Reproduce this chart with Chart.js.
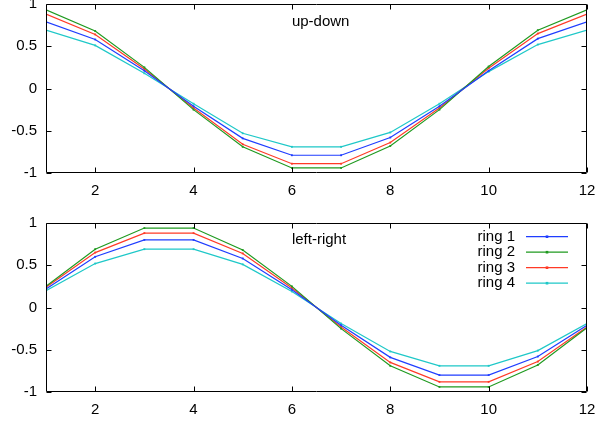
<!DOCTYPE html>
<html>
<head>
<meta charset="utf-8">
<script src="https://cdn.jsdelivr.net/npm/chart.js@4/dist/chart.umd.min.js"></script>
<style>
  html, body { margin: 0; padding: 0; background: #fff; }
  #wrap { position: relative; width: 595px; height: 423px; }
  canvas { position: absolute; left: 0; }
  #top { top: 0; }
  #bottom { top: 210px; }
</style>
</head>
<body>
<div id="wrap">
  <canvas id="top" width="595" height="210"></canvas>
  <canvas id="bottom" width="595" height="213"></canvas>
</div>
<script>
// Sample index along each ring
const positions = [1, 2, 3, 4, 5, 6, 7, 8, 9, 10, 11, 12];

// Series names and colours
const ringNames = ['ring 1', 'ring 2', 'ring 3', 'ring 4'];
const ringColors = ['#1f3dff', '#1f9a1f', '#ff3a26', '#1ec8c8'];

// Vertical (up-down) displacement per ring
const upDown1 = [0.79, 0.58, 0.21, -0.21, -0.59, -0.79, -0.79, -0.58, -0.21, 0.21, 0.59, 0.79];
const upDown2 = [0.93, 0.68, 0.25, -0.25, -0.69, -0.94, -0.94, -0.68, -0.25, 0.26, 0.69, 0.93];
const upDown3 = [0.88, 0.64, 0.23, -0.23, -0.66, -0.89, -0.89, -0.64, -0.23, 0.24, 0.65, 0.88];
const upDown4 = [0.69, 0.51, 0.18, -0.18, -0.53, -0.69, -0.69, -0.52, -0.18, 0.20, 0.52, 0.69];

// Horizontal (left-right) displacement per ring
const leftRight1 = [0.22, 0.60, 0.80, 0.80, 0.58, 0.21, -0.21, -0.59, -0.80, -0.80, -0.58, -0.21];
const leftRight2 = [0.25, 0.69, 0.94, 0.94, 0.68, 0.25, -0.25, -0.69, -0.94, -0.94, -0.68, -0.24];
const leftRight3 = [0.24, 0.65, 0.88, 0.88, 0.64, 0.23, -0.23, -0.65, -0.88, -0.88, -0.64, -0.23];
const leftRight4 = [0.20, 0.52, 0.69, 0.69, 0.51, 0.19, -0.19, -0.52, -0.69, -0.69, -0.51, -0.19];

// Tick values and labels
const xTicks = [2, 4, 6, 8, 10, 12];
const yTicks = [-1, -0.5, 0, 0.5, 1];
const yTickLabels = ['-1', '-0.5', '0', '0.5', '1'];

const FONT = '"Liberation Sans", Arial, Helvetica, sans-serif';
const FONT_SIZE = 15;

function makeDatasets(seriesList) {
  return seriesList.map((vals, i) => ({
    label: ringNames[i],
    data: positions.map((x, k) => ({ x: x, y: vals[k] })),
    borderColor: ringColors[i],
    backgroundColor: ringColors[i],
    pointBackgroundColor: ringColors[i],
    pointBorderColor: ringColors[i],
    borderWidth: 1.2,
    pointRadius: 1.3,
    pointBorderWidth: 0,
    pointStyle: 'rect',
    tension: 0,
    fill: false
  }));
}

// Frame, inward ticks, in-plot title and optional key
const framePlugin = {
  id: 'frame',
  afterDatasetsDraw(chart, args, opts) {
    const ctx = chart.ctx;
    const a = chart.chartArea;
    const xs = chart.scales.x, ys = chart.scales.y;
    ctx.save();
    ctx.strokeStyle = '#000';
    ctx.lineWidth = 1;
    const L = Math.round(a.left) + 0.5, R = Math.round(a.right) - 0.5;
    const T = Math.round(a.top) + 0.5, B = Math.round(a.bottom) - 0.5;
    ctx.beginPath();
    ctx.rect(L, T, R - L, B - T);
    const tl = 5;
    xTicks.forEach(v => {
      const px = Math.round(xs.getPixelForValue(v)) + 0.5;
      ctx.moveTo(px, B); ctx.lineTo(px, B - tl);
      ctx.moveTo(px, T); ctx.lineTo(px, T + tl);
    });
    yTicks.forEach(v => {
      const py = Math.round(ys.getPixelForValue(v)) + 0.5;
      ctx.moveTo(L, py); ctx.lineTo(L + tl, py);
      ctx.moveTo(R, py); ctx.lineTo(R - tl, py);
    });
    ctx.stroke();

    ctx.fillStyle = '#000';
    ctx.font = FONT_SIZE + 'px ' + FONT;
    ctx.textBaseline = 'middle';
    ctx.textAlign = 'left';
    ctx.fillText(opts.title, xs.getPixelForValue(opts.titleAt[0]), ys.getPixelForValue(opts.titleAt[1]));

    if (opts.key) {
      const k = opts.key;
      chart.data.datasets.forEach((ds, i) => {
        const y = k.top + i * k.step;
        ctx.fillStyle = '#000';
        ctx.textAlign = 'right';
        ctx.fillText(ds.label, k.textRight, y);
        ctx.strokeStyle = ds.borderColor;
        ctx.lineWidth = 1.2;
        ctx.beginPath();
        ctx.moveTo(k.lineFrom, y);
        ctx.lineTo(k.lineTo, y);
        ctx.stroke();
        ctx.fillStyle = ds.borderColor;
        const mx = (k.lineFrom + k.lineTo) / 2;
        ctx.fillRect(mx - 1.3, y - 1.3, 2.6, 2.6);
      });
    }
    ctx.restore();
  }
};

function makeChart(id, seriesList, padTop, xHeight, frameOpts) {
  return new Chart(document.getElementById(id), {
    type: 'line',
    data: { datasets: makeDatasets(seriesList) },
    options: {
      responsive: false,
      animation: false,
      events: [],
      layout: { padding: { top: padTop, right: 8, left: 0, bottom: 0 } },
      scales: {
        x: {
          type: 'linear',
          min: 1,
          max: 12,
          grid: { display: false, drawTicks: false },
          border: { display: false },
          afterBuildTicks: s => { s.ticks = xTicks.map(v => ({ value: v })); },
          afterFit: s => {
            s.height = xHeight;
            s.paddingLeft = 0; s.paddingRight = 0;
            s.paddingTop = 0; s.paddingBottom = 0;
          },
          ticks: {
            padding: 9,
            color: '#000',
            maxRotation: 0,
            autoSkip: false,
            font: { family: FONT, size: FONT_SIZE },
            callback: v => String(v)
          }
        },
        y: {
          min: -1,
          max: 1,
          grid: { display: false, drawTicks: false },
          border: { display: false },
          afterBuildTicks: s => { s.ticks = yTicks.map(v => ({ value: v })); },
          afterFit: s => {
            s.width = 46;
            s.paddingLeft = 0; s.paddingRight = 0;
            s.paddingTop = 0; s.paddingBottom = 0;
          },
          ticks: {
            padding: 9,
            color: '#000',
            autoSkip: false,
            font: { family: FONT, size: FONT_SIZE },
            callback: v => yTickLabels[yTicks.indexOf(v)]
          }
        }
      },
      plugins: {
        legend: { display: false },
        tooltip: { enabled: false },
        frame: frameOpts
      }
    },
    plugins: [framePlugin]
  });
}

makeChart('top', [upDown1, upDown2, upDown3, upDown4], 4, 37,
  { title: 'up-down', titleAt: [6, 0.79] });

makeChart('bottom', [leftRight1, leftRight2, leftRight3, leftRight4], 13, 31,
  { title: 'left-right', titleAt: [6, 0.8],
    key: { top: 26.7, step: 15.5, textRight: 515, lineFrom: 526, lineTo: 568 } });
</script>
</body>
</html>
